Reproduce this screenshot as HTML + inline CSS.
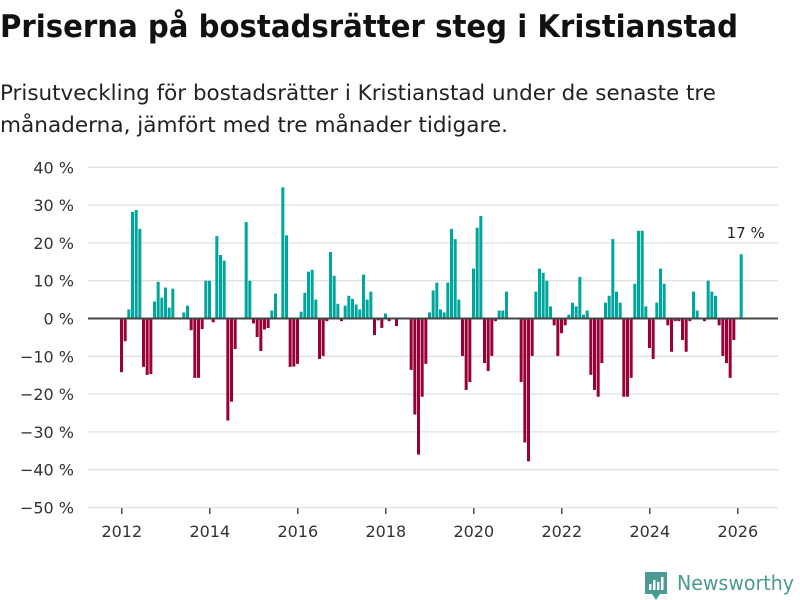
<!DOCTYPE html>
<html><head><meta charset="utf-8">
<style>
html,body{margin:0;padding:0;background:#fff;}
svg{display:block;font-family:"DejaVu Sans","Liberation Sans",sans-serif;}
</style></head>
<body>
<svg id="chart" width="800" height="600" viewBox="0 0 800 600">
<text x="0" y="37" font-size="31" font-weight="bold" fill="#111" textLength="738" lengthAdjust="spacingAndGlyphs">Priserna på bostadsrätter steg i Kristianstad</text>
<text x="0" y="100" font-size="21" fill="#222" textLength="716" lengthAdjust="spacingAndGlyphs">Prisutveckling för bostadsrätter i Kristianstad under de senaste tre</text>
<text x="0" y="132" font-size="21" fill="#222" textLength="508" lengthAdjust="spacingAndGlyphs">månaderna, jämfört med tre månader tidigare.</text>
<g id="grid"></g>
<g id="bars"></g>
<g id="axes"></g>
<g>
<path d="M645 572 h22 v22 h-7 l-4 6 l-4 -6 h-7 z" fill="#4a9b94"/>
<rect x="649" y="584" width="2.5" height="6" fill="#fff"/>
<rect x="653" y="580" width="2.5" height="10" fill="#fff"/>
<rect x="657" y="582" width="2.5" height="8" fill="#fff"/>
<rect x="661" y="577" width="2.5" height="13" fill="#fff"/>
<text x="677" y="590" font-size="20" fill="#4a9b94" textLength="117" lengthAdjust="spacingAndGlyphs">Newsworthy</text>
</g>
</svg>
<script>
const values = [
-14.2,-6,2.4,28.2,28.7,23.7,-12.8,-14.9,-14.7,4.5,9.7,5.5,
8.2,2.9,7.9,0,0,1.6,3.4,-3.1,-15.7,-15.7,-2.8,10,
10,-1,21.8,16.8,15.3,-27,-22,-8.1,0,0,25.5,10,
-1.3,-4.9,-8.6,-2.9,-2.5,2.1,6.6,0,34.7,22,-12.8,-12.7,
-12,1.8,6.8,12.4,12.9,5,-10.7,-9.9,-0.7,17.6,11.3,3.9,
-0.7,3.4,6,5.2,3.7,2.4,11.6,5,7.1,-4.4,-0.5,-2.5,
1.3,-0.7,0,-2,0,0,0,-13.6,-25.4,-36,-20.7,-12,
1.6,7.4,9.5,2.4,1.6,9.5,23.7,21,5,-9.9,-18.9,-16.8,
13.2,24,27.1,-11.8,-13.9,-9.9,-0.7,2.1,2.1,7.1,0,0,
0,-16.8,-32.8,-37.8,-9.9,7.1,13.2,12.1,10,3.2,-1.8,-9.9,
-3.9,-1.8,1,4.2,3.2,11,1,2.1,-14.9,-18.9,-20.7,-11.8,
4.2,6,21,7.1,4.2,-20.7,-20.7,-15.7,9.2,23.2,23.2,3.2,
-7.8,-10.7,4.2,13.2,9.2,-1.8,-8.8,-0.7,-0.7,-5.7,-8.8,-0.7,
7.1,2.1,0,-0.7,10,7.1,6,-1.8,-9.9,-11.8,-15.7,-5.7,
0,17
];
const yTicks = [40,30,20,10,0,-10,-20,-30,-40,-50];
const yearTicks = [2012,2014,2016,2018,2020,2022,2024,2026];
const startYear = 2012;
const lastLabel = "17 %";

const NS = "http://www.w3.org/2000/svg";
const x0 = 120, pitch = 44/12, bw = 3;
function xScale(m){ return x0 + m*pitch; }
function yScale(v){ return 318.5 + (-v)*3.78; }

const grid = document.getElementById('grid');
const axes = document.getElementById('axes');
const bars = document.getElementById('bars');

yTicks.forEach(t => {
  if (t !== 0) {
    const l = document.createElementNS(NS,'line');
    l.setAttribute('x1',88); l.setAttribute('x2',778);
    l.setAttribute('y1',yScale(t)); l.setAttribute('y2',yScale(t));
    l.setAttribute('stroke','#e0e0e0'); l.setAttribute('stroke-width',1.3);
    
    
    grid.appendChild(l);
  }
  const tx = document.createElementNS(NS,'text');
  tx.setAttribute('x',74); tx.setAttribute('y',yScale(t)+6);
  tx.setAttribute('text-anchor','end'); tx.setAttribute('font-size',16); tx.setAttribute('fill','#333');
  tx.textContent = (t<0 ? '\u2212'+(-t) : t) + ' %';
  
  
  axes.appendChild(tx);
});

values.forEach((v,i) => {
  if (v === 0) return;
  const r = document.createElementNS(NS,'rect');
  r.setAttribute('x', xScale(i));
  r.setAttribute('width', bw);
  r.setAttribute('y', Math.min(yScale(v), yScale(0)));
  r.setAttribute('height', Math.abs(yScale(v)-yScale(0)));
  r.setAttribute('fill', v > 0 ? '#00a59b' : '#990038');
  
  
  bars.appendChild(r);
});

const zl = document.createElementNS(NS,'line');
zl.setAttribute('x1',88); zl.setAttribute('x2',778);
zl.setAttribute('y1',yScale(0)); zl.setAttribute('y2',yScale(0));
zl.setAttribute('stroke','#444'); zl.setAttribute('stroke-width',2);


axes.appendChild(zl);

yearTicks.forEach(y => {
  const x = xScale((y-startYear)*12) + 1.8;
  const tk = document.createElementNS(NS,'line');
  tk.setAttribute('x1',x); tk.setAttribute('x2',x);
  tk.setAttribute('y1',508); tk.setAttribute('y2',514);
  tk.setAttribute('stroke','#333'); tk.setAttribute('stroke-width',1.3);
  
  
  axes.appendChild(tk);
  const tx = document.createElementNS(NS,'text');
  tx.setAttribute('x',x); tx.setAttribute('y',537);
  tx.setAttribute('text-anchor','middle'); tx.setAttribute('font-size',16); tx.setAttribute('fill','#333');
  tx.textContent = y;
  
  
  axes.appendChild(tx);
});

const li = values.length-1;
const lab = document.createElementNS(NS,'text');
lab.setAttribute('x', xScale(li)+6);
lab.setAttribute('y', yScale(values[li])-16);
lab.setAttribute('text-anchor','middle'); lab.setAttribute('font-size',15); lab.setAttribute('fill','#222');
lab.textContent = lastLabel;


axes.appendChild(lab);
</script>
</body></html>
